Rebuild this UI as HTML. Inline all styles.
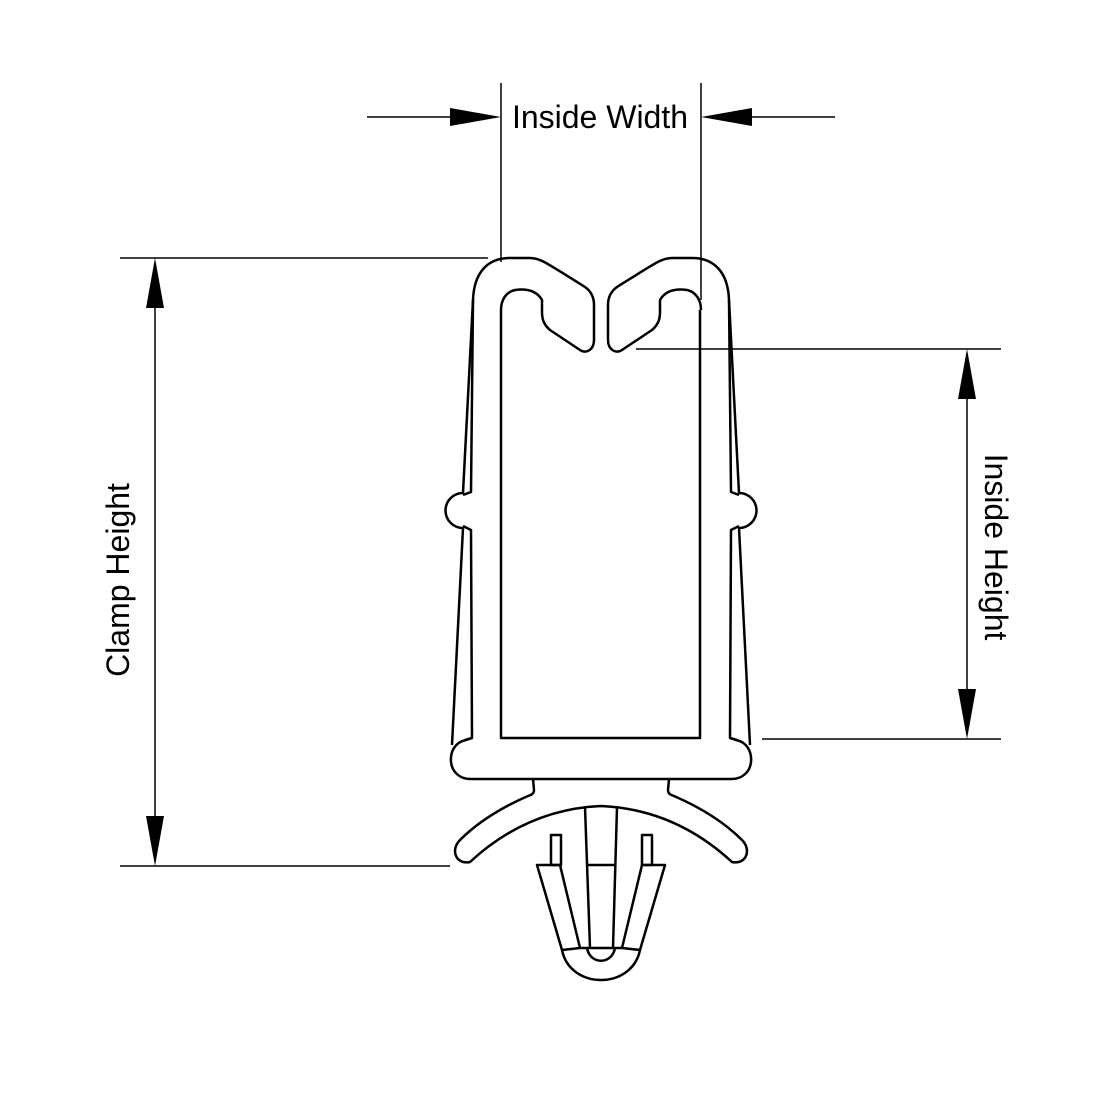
<!DOCTYPE html>
<html><head><style>body{margin:0;background:#fff}svg{display:block}</style></head><body>
<svg width="1100" height="1100" viewBox="0 0 1100 1100" xmlns="http://www.w3.org/2000/svg">
<g fill="none" stroke="#000" stroke-width="2.5" stroke-linejoin="round">
<path d="M473,300 C474,272 488,258 510,258 L530,258 C540,258 545,262 585,287 C592,292 594,298 594,305 L594,340 C594,350 586,354 580,350 L550,330 C543,324 542,318 542,312 L542,300 C538,293 530,288 515,290 C506,292 501,300 501,310"/>
<path d="M729,300 C728,272 714,258 692,258 L672,258 C662,258 657,262 617,287 C610,292 608,298 608,305 L608,340 C608,350 616,354 622,350 L652,330 C659,324 660,318 660,312 L660,300 C664,293 672,288 687,290 C696,292 701,300 701,310"/>
<path d="M501,310 L501,738 L700,738 L700,310"/>
<path d="M473,300 L463,493 A17,17 0 0 0 463,528 L452,745"/>
<path d="M473,300 L471,492 L463,495"/>
<path d="M463,526 L471,530 L472,738 L465,740"/>
<path d="M729,300 L739,493 A17,17 0 0 1 739,528 L750,745"/>
<path d="M729,300 L731,492 L739,495"/>
<path d="M739,526 L731,530 L730,738 L737,740"/>
<path d="M472,738 L466,740 C455,742 450,752 451,762 C452,772 460,779 470,779 L732,779 C742,779 750,772 751,762 C752,752 747,742 736,740 L730,738"/>
<path d="M533,779 L534,790 C534,794 531,795 528,796 C505,806 480,820 460,840 C450,850 456,865 470,862 C510,825 555,808 601,806 C647,808 692,825 732,862 C746,865 752,850 742,840 C722,820 697,806 674,796 C671,795 668,794 668,790 L669,779"/>
<path d="M585,807 L590,948 M617,807 L613,948 M587,865 L615,865"/>
<rect x="551" y="835" width="10" height="30"/>
<rect x="642" y="835" width="10" height="30"/>
<path d="M537,865 L560,865 L580,948 L562,950 Z"/>
<path d="M665,865 L642,865 L622,948 L640,950 Z"/>
<path d="M562,950 C570,990 632,990 640,950"/>
<path d="M580,948 L622,948"/>
<path d="M587,948 C590,965 612,965 615,948"/>
</g>
<g stroke="#000" stroke-width="1.5" fill="none">
<path d="M501,83 L501,262 M701,83 L701,300 M367,117 L455,117 M835,117 L750,117"/>
<path d="M120,258 L488,258 M120,866 L450,866 M155,300 L155,825"/>
<path d="M636,349 L1001,349 M762,739 L1001,739 M967,395 L967,695"/>
</g>
<g fill="#000">
<path d="M501,117 L450,108 L450,126 Z"/>
<path d="M701,117 L752,108 L752,126 Z"/>
<path d="M155,258 L146,308 L164,308 Z"/>
<path d="M155,866 L146,816 L164,816 Z"/>
<path d="M967,349 L958,399 L976,399 Z"/>
<path d="M967,739 L958,689 L976,689 Z"/>
</g>
<g font-family="Liberation Sans, sans-serif" font-size="32" fill="#000" text-anchor="middle">
<text x="600" y="128">Inside Width</text>
<text transform="translate(129,580) rotate(-90)">Clamp Height</text>
<text transform="translate(985,547) rotate(90)">Inside Height</text>
</g>
</svg>
</body></html>
